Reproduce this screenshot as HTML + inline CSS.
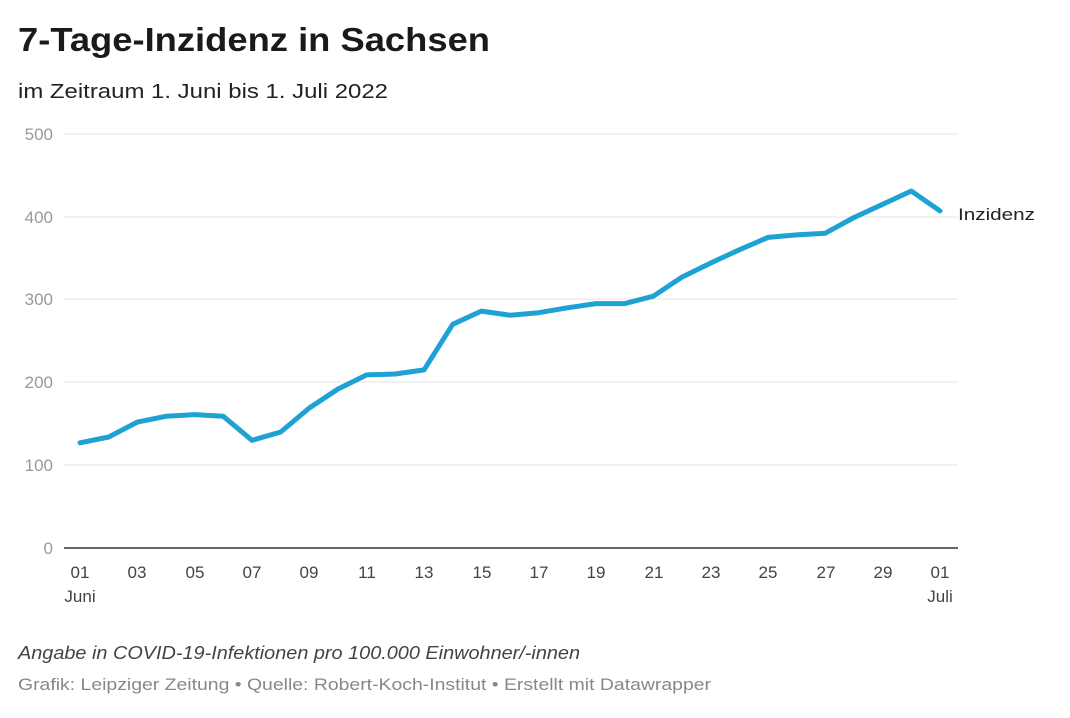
<!DOCTYPE html>
<html><head><meta charset="utf-8"><style>
body{margin:0;background:#fff;width:1070px;height:713px;overflow:hidden;font-family:"Liberation Sans",sans-serif;}
</style></head><body>
<svg width="1070" height="713" xmlns="http://www.w3.org/2000/svg" font-family="Liberation Sans, sans-serif">
<text x="18" y="51" font-size="33" font-weight="bold" fill="#1a1a1a" textLength="472" lengthAdjust="spacingAndGlyphs">7-Tage-Inzidenz in Sachsen</text>
<text x="18" y="98" font-size="20" fill="#222" textLength="370" lengthAdjust="spacingAndGlyphs">im Zeitraum 1. Juni bis 1. Juli 2022</text>
<g stroke="#e3e3e3" stroke-width="1">
<line x1="64" x2="958" y1="134" y2="134"/><line x1="64" x2="958" y1="217" y2="217"/>
<line x1="64" x2="958" y1="299" y2="299"/><line x1="64" x2="958" y1="382" y2="382"/>
<line x1="64" x2="958" y1="465" y2="465"/>
</g>
<line x1="64" x2="958" y1="548" y2="548" stroke="#333" stroke-width="1.5"/>
<g font-size="17" fill="#999" text-anchor="end">
<text x="53" y="140">500</text><text x="53" y="223">400</text><text x="53" y="305">300</text>
<text x="53" y="388">200</text><text x="53" y="471">100</text><text x="53" y="554">0</text>
</g>
<g font-size="17" fill="#444" text-anchor="middle">
<text x="80" y="578">01</text><text x="137" y="578">03</text><text x="195" y="578">05</text>
<text x="252" y="578">07</text><text x="309" y="578">09</text><text x="367" y="578">11</text>
<text x="424" y="578">13</text><text x="482" y="578">15</text><text x="539" y="578">17</text>
<text x="596" y="578">19</text><text x="654" y="578">21</text><text x="711" y="578">23</text>
<text x="768" y="578">25</text><text x="826" y="578">27</text><text x="883" y="578">29</text>
<text x="940" y="578">01</text>
<text x="80" y="602">Juni</text><text x="940" y="602">Juli</text>
</g>
<polyline fill="none" stroke="#1ea2d3" stroke-width="5" stroke-linejoin="round" stroke-linecap="round"
points="80,442.8 108.7,437 137.3,422.1 166,416.3 194.7,414.6 223.3,416.3 252,440.3 280.7,432 309.3,408 338,389 366.7,374.9 395.3,374 424,369.9 452.7,324.3 481.3,311.1 510,315.2 538.7,312.7 567.3,307.8 596,303.6 624.7,303.6 653.3,296.2 682,277.1 710.7,263 739.3,249.8 768,237.4 796.7,234.9 825.3,233.2 854,217.5 882.7,204.3 911.3,191 940,210.9"/>
<text x="958" y="220" font-size="17" fill="#222" textLength="77" lengthAdjust="spacingAndGlyphs">Inzidenz</text>
<text x="18" y="659" font-size="18" font-style="italic" fill="#444" textLength="562" lengthAdjust="spacingAndGlyphs">Angabe in COVID-19-Infektionen pro 100.000 Einwohner/-innen</text>
<text x="18" y="690" font-size="17" fill="#888" textLength="693" lengthAdjust="spacingAndGlyphs">Grafik: Leipziger Zeitung • Quelle: Robert-Koch-Institut • Erstellt mit Datawrapper</text>
</svg>
</body></html>
